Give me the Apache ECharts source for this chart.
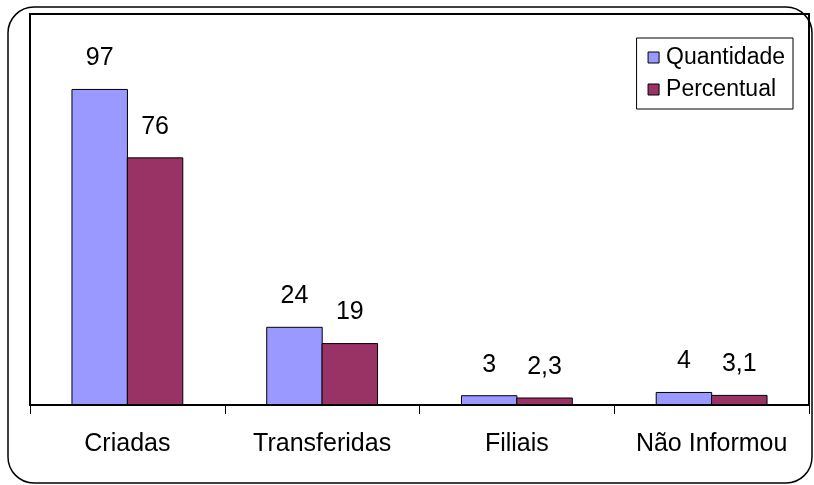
<!DOCTYPE html>
<html>
<head>
<meta charset="utf-8">
<script src="https://cdn.jsdelivr.net/npm/echarts@6/dist/echarts.min.js"></script>
<style>
  html, body { margin: 0; padding: 0; background: #fff; }
  #chart { width: 814px; height: 485px; }
</style>
</head>
<body>
<div id="chart"></div>
<script>
// dados do gráfico
const categorias = ['Criadas', 'Transferidas', 'Filiais', 'Não Informou']
const quantidade = [97, 24, 3, 4]
const percentual = [76, 19, 2.3, 3.1]

const fonte = '"Liberation Sans", Arial, sans-serif'

// rótulo com vírgula decimal
function rotulo(p) {
  return String(p.value).replace('.', ',')
}

const chart = echarts.init(document.getElementById('chart'))
chart.setOption({
  animation: false,
  textStyle: { fontFamily: fonte },
  graphic: [
    {
      type: 'rect',
      shape: { x: 8, y: 7, width: 804, height: 476, r: 26 },
      style: { fill: 'none', stroke: '#000', lineWidth: 1.5 },
      z: 100
    }
  ],
  legend: {
    right: 21,
    top: 38,
    orient: 'vertical',
    data: ['Quantidade', 'Percentual'],
    icon: 'rect',
    itemWidth: 11,
    itemHeight: 11,
    itemGap: 9,
    padding: [8, 8, 8, 11],
    borderColor: '#000',
    borderWidth: 1,
    textStyle: { fontSize: 23, color: '#000', fontFamily: fonte, padding: [0, 0, 0, 2] },
    itemStyle: { borderColor: '#000', borderWidth: 1 }
  },
  grid: {
    left: 30,
    right: 5,
    top: 14,
    bottom: 80,
    show: true,
    borderColor: '#000',
    borderWidth: 2
  },
  xAxis: {
    type: 'category',
    data: categorias,
    axisLine: { lineStyle: { color: '#000', width: 1.5 } },
    axisTick: { show: true, length: 9, lineStyle: { color: '#000', width: 1 } },
    axisLabel: { color: '#000', fontSize: 25, margin: 27, interval: 0, fontFamily: fonte }
  },
  yAxis: {
    type: 'value',
    min: 0,
    max: 120,
    show: false,
    splitLine: { show: false }
  },
  series: [
    {
      name: 'Quantidade',
      type: 'bar',
      data: quantidade,
      barWidth: '29%',
      barGap: '-2%',
      itemStyle: { color: '#9999FF', borderColor: '#000', borderWidth: 1 },
      label: {
        show: true,
        position: 'top',
        distance: 18,
        fontSize: 25,
        color: '#000',
        fontFamily: fonte,
        formatter: rotulo
      }
    },
    {
      name: 'Percentual',
      type: 'bar',
      data: percentual,
      barWidth: '29%',
      itemStyle: { color: '#993366', borderColor: '#000', borderWidth: 1 },
      label: {
        show: true,
        position: 'top',
        distance: 18,
        fontSize: 25,
        color: '#000',
        fontFamily: fonte,
        formatter: rotulo
      }
    }
  ]
})
</script>
</body>
</html>
